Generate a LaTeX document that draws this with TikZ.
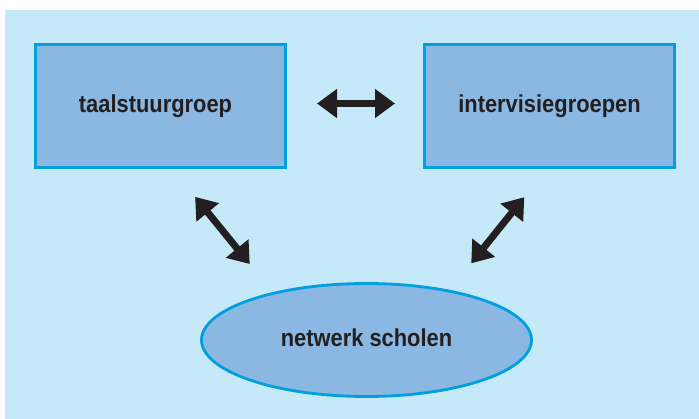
\documentclass[tikz,border=0pt]{standalone}
\usepackage{fontspec}
\setmainfont{Liberation Sans}
\usetikzlibrary{arrows.meta,shapes.geometric}
\definecolor{bgblue}{HTML}{C6E9F9}
\definecolor{fillblue}{HTML}{8AB8E2}
\definecolor{lineblue}{HTML}{009FDF}
\definecolor{ink}{HTML}{231F20}
\newcommand{\lbl}[1]{\scalebox{0.893}[1]{\fontsize{24.5}{29}\selectfont\bfseries #1}}
\begin{document}
\begin{tikzpicture}[x=1pt,y=-1pt,
  boxnode/.style={draw=lineblue,fill=fillblue,line width=3pt,inner sep=0pt,
    minimum width=250pt,minimum height=123pt,text=ink},
  ellnode/.style={ellipse,draw=lineblue,fill=fillblue,line width=2.8pt,inner sep=0pt,
    minimum width=330pt,minimum height=113pt,text=ink},
  dbl/.style={draw=ink,line width=7pt,{Triangle[length=20pt,width=28pt]}-{Triangle[length=20pt,width=28pt]}}]
\useasboundingbox (0,0) rectangle (699,419);
\fill[bgblue] (5,10) rectangle (699,419);
\node[boxnode] (b1) at (160.5,106) {\lbl{taalstuurgroep}\hspace*{10pt}};
\node[boxnode] (b2) at (549.5,106) {\lbl{intervisiegroepen}};
\node[ellnode] (ell) at (366.5,340) {\lbl{netwerk scholen\vphantom{p}}};
\draw[dbl,shorten <=30pt,shorten >=28pt] ([yshift=2.5pt]b1.east) -- ([yshift=2.5pt]b2.west);
\draw[dbl,shorten <=36pt,shorten >=36.3pt] ([xshift=11.9pt]b1.south) -- (ell.153.3);
\draw[dbl,shorten <=34.1pt,shorten >=36.2pt] (ell.31.7) -- ([xshift=-2.6pt]b2.south);
\end{tikzpicture}
\end{document}
